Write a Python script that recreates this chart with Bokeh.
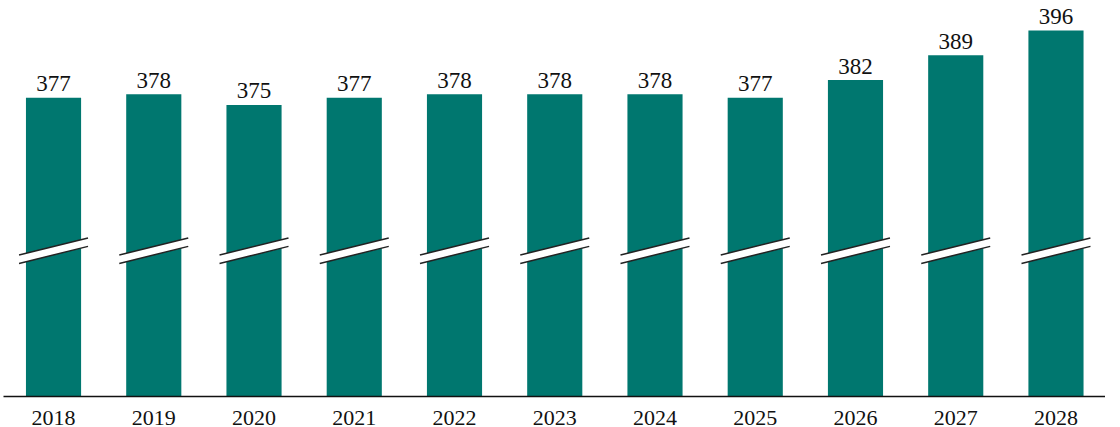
from bokeh.plotting import figure
from bokeh.models import FixedTicker, Range1d, ColumnDataSource
from bokeh.core.properties import value
from bokeh.embed import file_html
from bokeh.resources import INLINE

years = ["2018", "2019", "2020", "2021", "2022", "2023", "2024", "2025", "2026", "2027", "2028"]
values = [377, 378, 375, 377, 378, 378, 378, 377, 382, 389, 396]

FONT = "Liberation Serif"
BAR_COLOR = "#00776F"
BASE = 292.6          # value at the (broken) baseline
BREAK_AT = 333.8      # value where the break stripe sits
PX_PER_UNIT = 3.53
FRAME_H = 395

xs = list(range(len(years)))

W, H = 1105, 427
p = figure(width=W, height=H, output_backend="svg", toolbar_location=None,
           min_border_left=3, min_border_right=0, min_border_top=0, min_border_bottom=0,
           x_range=Range1d(-0.499, 10.494), y_range=Range1d(BASE, BASE + FRAME_H / PX_PER_UNIT))
p.outline_line_color = None
p.grid.visible = False
p.yaxis.visible = False
p.background_fill_color = "white"
p.border_fill_color = "white"

src = ColumnDataSource(dict(x=xs, top=values, label=[str(v) for v in values]))
p.vbar(x="x", top="top", bottom=BASE, width=0.55, source=src,
       fill_color=BAR_COLOR, line_color=None)

p.text(x="x", y="top", text="label", source=src, text_align="center",
       text_baseline="alphabetic", y_offset=-14, text_font=value(FONT),
       text_font_size="23px", text_color="#111111")

# break marks
hw, dy, th = 0.344, 2.41, 1.19
px, py, top_x, top_y, bot_x, bot_y = [], [], [], [], [], []
for x in xs:
    px.append([x - hw, x + hw, x + hw, x - hw])
    py.append([BREAK_AT - dy + th, BREAK_AT + dy + th, BREAK_AT + dy - th, BREAK_AT - dy - th])
    top_x.append([x - hw, x + hw]); top_y.append([BREAK_AT - dy + th, BREAK_AT + dy + th])
    bot_x.append([x - hw, x + hw]); bot_y.append([BREAK_AT - dy - th, BREAK_AT + dy - th])
p.patches(px, py, fill_color="white", line_color=None)
p.multi_line(top_x + bot_x, top_y + bot_y, line_color="#222222", line_width=1.5)

ax = p.xaxis[0]
ax.ticker = FixedTicker(ticks=xs)
ax.major_label_overrides = {i: y for i, y in zip(xs, years)}
ax.major_tick_line_color = None
ax.minor_tick_line_color = None
ax.major_tick_out = 0
ax.major_tick_in = 0
ax.axis_line_color = "#111111"
ax.axis_line_width = 1.5
ax.major_label_standoff = 14
ax.major_label_text_font = FONT
ax.major_label_text_font_size = "22px"
ax.major_label_text_color = "#111111"

open("out.html", "w").write(file_html(p, INLINE))
